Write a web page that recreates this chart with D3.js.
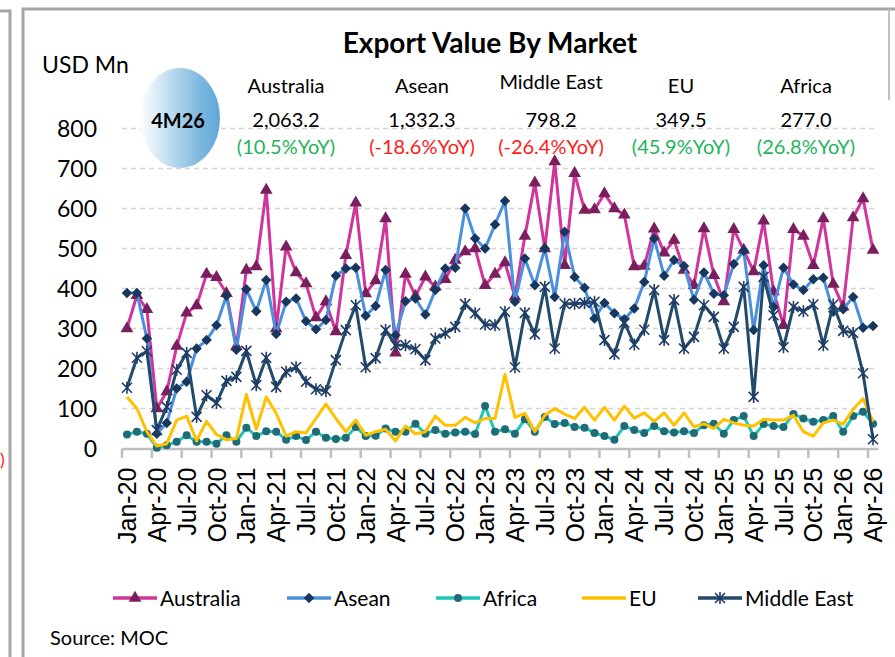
<!DOCTYPE html>
<html>
<head>
<meta charset="utf-8">
<script src="https://cdn.jsdelivr.net/npm/d3@7"></script>
<style>
  body{margin:0;background:#fff;}
  svg text{font-family:Lato,"Open Sans",sans-serif;}
</style>
</head>
<body>
<svg id="chart" width="895" height="657"></svg>
<script>
// monthly export value, USD Mn, Jan-20 .. Apr-26
var australia=[300,383,348,100,142,256,339,357,436,428,388,255,
    446,455,646,300,504,440,412,327,367,292,483,614,
    387,420,575,239,436,381,429,404,423,471,492,500,
    408,436,465,379,531,664,500,717,458,688,596,597,
    637,600,584,455,456,549,489,521,446,408,550,433,
    367,548,496,442,569,392,308,548,531,458,575,411,
    354,577,625,496];
var asean=[389,389,275,37,64,150,167,250,271,308,382,247,
    398,343,421,286,367,375,318,298,321,432,450,452,
    332,356,446,283,368,375,335,396,450,452,600,525,
    500,560,619,367,475,408,500,379,542,429,402,325,
    364,338,323,350,416,525,432,471,456,372,440,387,
    383,461,494,296,458,354,452,410,396,423,427,342,
    348,379,302,306];
var africa=[35,42,37,2,8,17,33,17,17,12,33,17,
    52,31,43,42,22,31,21,42,27,24,27,54,
    31,32,50,42,42,62,37,46,37,40,42,36,
    106,42,48,37,73,42,79,61,64,54,52,39,
    31,22,56,46,39,56,43,40,43,39,58,62,
    37,71,81,31,61,56,54,86,75,67,71,81,
    42,81,92,62];
var eu=[129,100,42,6,12,71,81,19,68,35,22,25,
    135,48,129,88,31,42,39,75,111,75,42,71,
    33,42,48,19,56,37,42,81,58,58,78,64,
    75,75,185,78,88,42,83,100,86,75,103,71,
    103,71,106,76,89,68,89,58,89,54,62,50,
    73,64,58,56,73,71,71,83,42,31,64,71,
    61,98,125,67];
var middleEast=[152,227,243,46,104,197,239,79,133,114,169,179,
    244,158,227,154,192,203,167,148,144,221,296,358,
    203,226,296,258,258,248,221,275,288,304,361,338,
    310,308,342,203,339,286,404,250,362,362,364,367,
    271,236,315,260,297,396,271,371,250,279,358,329,
    250,304,404,129,429,333,253,354,343,360,258,360,
    294,289,188,23];

var yTicks=[0,100,200,300,400,500,600,700,800];
var summaryNames=["Australia","Asean","Middle East","EU","Africa"];
var summaryValues=["2,063.2","1,332.3","798.2","349.5","277.0"];
var summaryYoY=["(10.5%YoY)","(-18.6%YoY)","(-26.4%YoY)","(45.9%YoY)","(26.8%YoY)"];
var summaryColor=["#1fb35a","#ff1a1a","#ff1a1a","#1fb35a","#1fb35a"];
var summaryX=[286,422,551,681,806];

var fmt=d3.utcFormat("%b-%y");
var months=d3.utcMonth.range(new Date(Date.UTC(2020,0,1)),new Date(Date.UTC(2026,4,1))).map(fmt);
var tickLabels=months.filter(function(d,i){return i%3===0;});

var series=[
    {name:"Australia",data:australia,color:"#d0359c",marker:"triangle",mcolor:"#7a1f5e"},
    {name:"Asean",data:asean,color:"#4a90dc",marker:"diamond",mcolor:"#17375e"},
    {name:"Africa",data:africa,color:"#1ec6b6",marker:"circle",mcolor:"#1f6c78"},
    {name:"EU",data:eu,color:"#ffc000",marker:"none",mcolor:"#ffc000"},
    {name:"Middle East",data:middleEast,color:"#224a6a",marker:"star",mcolor:"#1f3c66"}
];

var svg=d3.select("#chart");

// frames
svg.append("path").attr("d","M0,11H10V657").attr("fill","none").attr("stroke","#a6a6a6").attr("stroke-width",3);
svg.append("path").attr("d","M23,657V9H895").attr("fill","none").attr("stroke","#a6a6a6").attr("stroke-width",3);
svg.append("path").attr("d","M889,9V100").attr("fill","none").attr("stroke","#bfbfbf").attr("stroke-width",2);
svg.append("text").attr("x",0).attr("y",466).attr("fill","#ff1a1a").style("font-size","18px").text(")");

var x=d3.scaleBand().domain(months).range([122,878]);
var y=d3.scaleLinear().domain([0,800]).range([448.5,128.5]);
function cx(i){return x(months[i])+x.bandwidth()/2;}

// grid
svg.append("g").selectAll("line").data(yTicks.slice(1)).join("line")
    .attr("x1",122).attr("x2",878)
    .attr("y1",function(d){return y(d);}).attr("y2",function(d){return y(d);})
    .attr("stroke","#d4d4d4").attr("stroke-width",1.5).attr("stroke-dasharray","5,4");

// y labels
svg.append("g").selectAll("text").data(yTicks).join("text")
    .attr("x",97).attr("y",function(d){return y(d);}).attr("dy","0.36em")
    .attr("text-anchor","end").style("font-size","23px").attr("fill","#000")
    .text(function(d){return d;});
svg.append("text").attr("x",42).attr("y",73).style("font-size","23px").text("USD Mn");

// x axis
var xAxis=d3.axisBottom(x).tickValues(tickLabels).tickSize(0).tickPadding(0);
var gx=svg.append("g").attr("transform","translate(0,448.5)").call(xAxis);
gx.select(".domain").attr("stroke","#bfbfbf").attr("stroke-width",2.5);
gx.selectAll("text")
    .attr("transform","rotate(-90)").attr("x",-19).attr("y",0).attr("dy","0.36em")
    .attr("text-anchor","end").style("font-family","'Liberation Sans',Arial,sans-serif")
    .style("font-size","25px").attr("fill","#000");
svg.append("g").selectAll("line").data(tickLabels).join("line")
    .attr("x1",function(d){return x(d);}).attr("x2",function(d){return x(d);})
    .attr("y1",448.5).attr("y2",458).attr("stroke","#bfbfbf").attr("stroke-width",2.5);

// markers
function drawMarker(g,type,color){
    if(type==="triangle"){
        g.append("path").attr("d",d3.symbol(d3.symbolTriangle,70)()).attr("fill",color);
    }else if(type==="diamond"){
        g.append("path").attr("d",d3.symbol(d3.symbolSquare,55)()).attr("transform","rotate(45)").attr("fill",color);
    }else if(type==="circle"){
        g.append("circle").attr("r",4).attr("fill",color);
    }else if(type==="star"){
        g.append("path").attr("d","M-5,-5L5,5M-5,5L5,-5M0,-6V6").attr("stroke",color).attr("stroke-width",1.6).attr("fill","none");
    }
}

var line=d3.line().x(function(d,i){return cx(i);}).y(function(d){return y(d);});

series.forEach(function(s){
    var g=svg.append("g");
    g.append("path").attr("d",line(s.data)).attr("fill","none")
        .attr("stroke",s.color).attr("stroke-width",3).attr("stroke-linejoin","round");
    if(s.marker!=="none"){
        g.selectAll("g").data(s.data).join("g")
            .attr("transform",function(d,i){return "translate("+cx(i)+","+y(d)+")";})
            .each(function(){drawMarker(d3.select(this),s.marker,s.mcolor);});
    }
});

// title and summary
svg.append("text").attr("x",490).attr("y",53).attr("text-anchor","middle")
    .style("font-size","28px").style("font-weight","bold").text("Export Value By Market");

var grad=svg.append("defs").append("linearGradient").attr("id","bub").attr("x1","0").attr("x2","1").attr("y1","0").attr("y2","0");
grad.append("stop").attr("offset","0%").attr("stop-color","#ffffff");
grad.append("stop").attr("offset","75%").attr("stop-color","#7db8e0");
grad.append("stop").attr("offset","100%").attr("stop-color","#5fa6d6");
svg.append("ellipse").attr("cx",180).attr("cy",118).attr("rx",40).attr("ry",50).attr("fill","url(#bub)");
svg.append("text").attr("x",178).attr("y",128).attr("text-anchor","middle")
    .style("font-size","20px").style("font-weight","bold").text("4M26");

var sg=svg.append("g");
summaryNames.forEach(function(n,i){
    sg.append("text").attr("x",summaryX[i]).attr("y",i===2?89:93).attr("text-anchor","middle").style("font-size","20px").text(n);
    sg.append("text").attr("x",summaryX[i]).attr("y",127).attr("text-anchor","middle").style("font-size","20px").text(summaryValues[i]);
    sg.append("text").attr("x",summaryX[i]).attr("y",154).attr("text-anchor","middle").style("font-size","20px")
        .attr("fill",summaryColor[i]).text(summaryYoY[i]);
});

// legend
var legendX=[113,287,436,582,698];
var lg=svg.append("g").attr("transform","translate(0,598)");
series.forEach(function(s,i){
    var it=lg.append("g").attr("transform","translate("+legendX[i]+",0)");
    it.append("line").attr("x1",0).attr("x2",44).attr("stroke",s.color).attr("stroke-width",3.5);
    var m=it.append("g").attr("transform","translate(22,0)");
    drawMarker(m,s.marker,s.mcolor);
    it.append("text").attr("x",47).attr("dy","0.36em").style("font-size","21px").text(s.name);
});

svg.append("text").attr("x",50).attr("y",645).style("font-size","20px").text("Source: MOC");
</script>
</body>
</html>
